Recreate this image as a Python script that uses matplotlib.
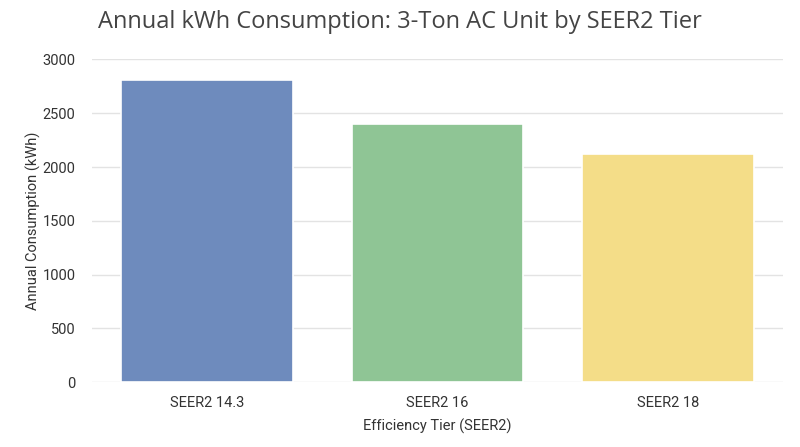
import matplotlib
matplotlib.use('Agg')
import matplotlib.pyplot as plt

# values
tiers = ['SEER2 14.3', 'SEER2 16', 'SEER2 18']
consumption = [2810, 2400, 2120]  # kWh per year
colors = ['#6e8bbd', '#8fc595', '#f4dd88']

plt.rcParams['font.family'] = ['Roboto', 'DejaVu Sans']

fig = plt.figure(figsize=(8, 4.47), dpi=100)
ax = fig.add_axes([0.115, 0.145, 0.864, 0.722])

x = range(len(tiers))
ax.bar(x, consumption, width=0.745, color=colors,
       edgecolor='white', linewidth=1.2, zorder=2)

ax.set_xlim(-0.5, len(tiers) - 0.5)
ax.set_ylim(0, 3000)
ax.set_yticks([0, 500, 1000, 1500, 2000, 2500, 3000])
ax.set_xticks(list(x))
ax.set_xticklabels(tiers)

ax.grid(axis='y', color='#e3e3e3', linewidth=1, zorder=0)
ax.set_axisbelow(True)
for side in ['top', 'right', 'left', 'bottom']:
    ax.spines[side].set_visible(False)
ax.tick_params(axis='both', length=0, labelsize=10.5, colors='#333333')
ax.tick_params(axis='x', pad=10)
ax.tick_params(axis='y', pad=12)

ax.set_xlabel('Efficiency Tier (SEER2)', fontsize=10.5, color='#333333',
              labelpad=6)
ax.set_ylabel('Annual Consumption (kWh)', fontsize=10.5, color='#333333',
              labelpad=1)

fig.text(0.5, 0.95, 'Annual kWh Consumption: 3-Ton AC Unit by SEER2 Tier',
         ha='center', va='center', fontsize=17, color='#444444',
         family=['Open Sans', 'DejaVu Sans'])

fig.savefig('out.png', dpi=100)
